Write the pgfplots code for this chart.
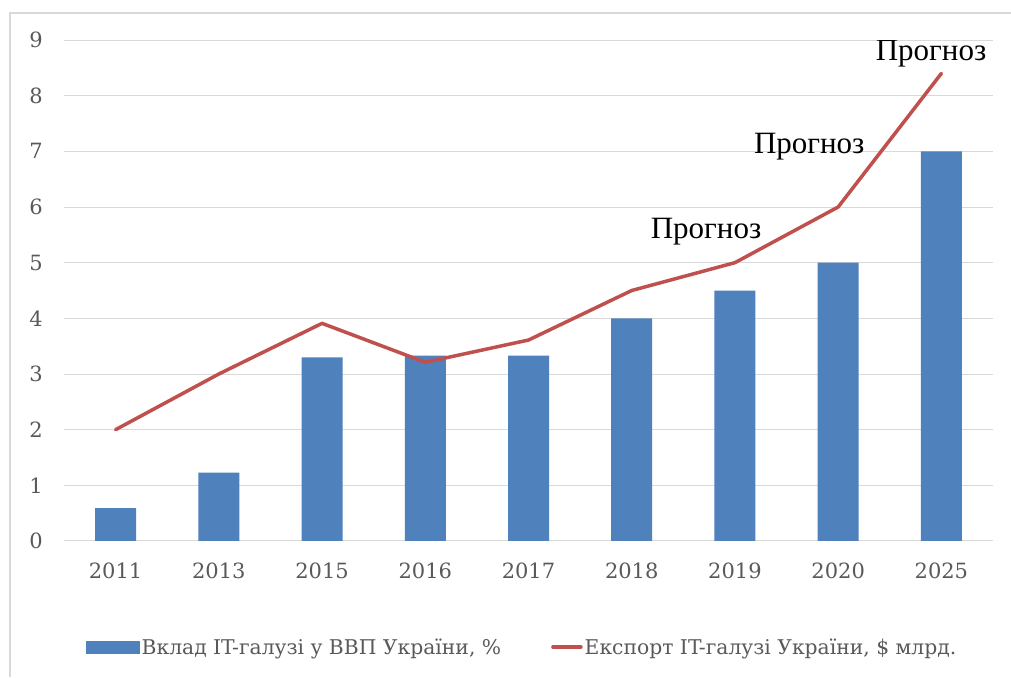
\documentclass[border=0pt]{standalone}
\usepackage{pgfplots}
\pgfplotsset{compat=1.18}
\usepackage{fontspec}
\setmainfont{DejaVu Serif}
\newfontfamily\progfont{Liberation Serif}
\definecolor{barblue}{HTML}{4F81BD}
\definecolor{linered}{HTML}{C0504D}
\definecolor{gridgray}{HTML}{D9D9D9}
\definecolor{txtgray}{HTML}{595959}
\begin{document}
\begin{tikzpicture}[x=1pt,y=1pt]
\path[use as bounding box] (0,0) rectangle (1011,677);
\fill[white] (0,0) rectangle (1011,677);
\draw[gridgray, line width=2pt] (10,0) -- (10,664) -- (1011,664);
\begin{axis}[
  at={(64pt,136pt)}, anchor=south west,
  scale only axis, width=929pt, height=501pt,
  xmin=-0.5, xmax=8.5, ymin=0, ymax=9,
  xtick={0,...,8},
  xticklabels={2011,2013,2015,2016,2017,2018,2019,2020,2025},
  ytick={0,...,9},
  ymajorgrids, grid style={gridgray, line width=1pt},
  separate axis lines,
  x axis line style={gridgray, line width=1pt},
  y axis line style={draw=none},
  major tick length=0pt,
  /pgf/number format/assume math mode=true,
  ticklabel style={font=\fontsize{21}{24}\selectfont, text=txtgray, inner sep=0pt},
  yticklabel style={anchor=east, xshift=-21pt},
  xticklabel style={anchor=north, yshift=-22pt},
  legend style={at={(0.493,-0.2116)}, anchor=center, draw=none, fill=none,
    font=\fontsize{20.3}{23}\selectfont, text=txtgray,
    /tikz/every even column/.append style={column sep=48pt}},
  legend columns=2, legend cell align=left,
]
\addplot[ybar, bar width=41pt, fill=barblue, draw=none,
  legend image code/.code={\fill[barblue] (0pt,-6.5pt) rectangle (54pt,6.5pt);}]
  coordinates {(0,0.59) (1,1.23) (2,3.30) (3,3.33) (4,3.33) (5,4.0) (6,4.5) (7,5.0) (8,7.0)};
\addlegendentry{Вклад IT-галузі у ВВП України, \%}
\addplot[linered, line width=3.5pt, mark=none, line join=round, line cap=round,
  legend image code/.code={\draw[linered, line width=3.5pt] (0pt,0pt) -- (28pt,0pt);}]
  coordinates {(0,2.0) (1,3.0) (2,3.91) (3,3.21) (4,3.61) (5,4.5) (6,5.0) (7,6.0) (8,8.4)};
\addlegendentry{Експорт IT-галузі України, \$ млрд.}
\node[anchor=base, font=\progfont\fontsize{31}{34}\selectfont, text=black] at (axis cs:5.72,5.44) {Прогноз};
\node[anchor=base, font=\progfont\fontsize{31}{34}\selectfont, text=black] at (axis cs:6.72,6.97) {Прогноз};
\node[anchor=base, font=\progfont\fontsize{31}{34}\selectfont, text=black] at (axis cs:7.90,8.64) {Прогноз};
\end{axis}
\end{tikzpicture}
\end{document}
